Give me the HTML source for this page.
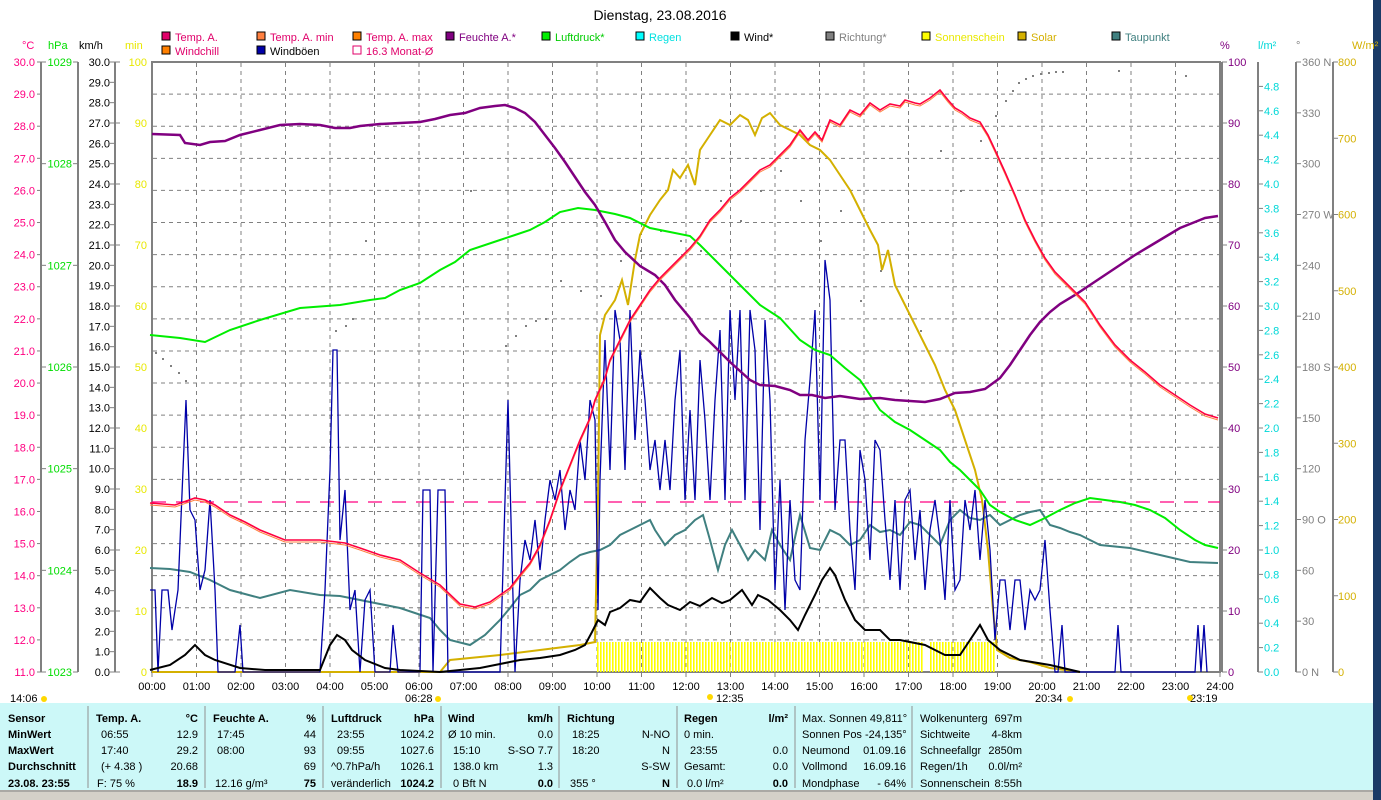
<!DOCTYPE html>
<html><head><meta charset="utf-8"><style>
body{margin:0;width:1381px;height:800px;overflow:hidden;background:#fff;font-family:"Liberation Sans",sans-serif}
svg{position:absolute;left:0;top:0}
svg text{font-family:"Liberation Sans",sans-serif;font-size:11px}
</style></head><body>
<svg id="s" width="1381" height="800" xmlns="http://www.w3.org/2000/svg">
<rect x="1373" y="0" width="8" height="800" fill="#1a3a66"/>
<text x="660" y="20" font-size="14" text-anchor="middle" style="font-size:14px">Dienstag, 23.08.2016</text>
<g id="leg"></g>
<g id="axes"></g>
<rect x="152" y="62" width="1068" height="610" fill="none" stroke="#808080" stroke-width="2"/>
<g id="grid" stroke="#808080" stroke-dasharray="4,4" stroke-width="1"></g>
<g id="sun" fill="#ffff00"></g>
<line x1="152" y1="502" x2="1220" y2="502" stroke="#ff0080" stroke-width="1.3" stroke-dasharray="14,10"/>
<g id="dots" fill="#808080"></g>
<polyline fill="none" stroke="#d4b000" stroke-width="2" points="152,672 440,672 450,660 500,655 540,650 580,645 595,642 598,500 600,335 605,315 615,300 622,280 628,305 635,260 640,235 650,215 660,200 668,190 673,170 680,178 688,165 695,185 700,150 710,135 720,120 730,125 740,115 748,120 755,135 762,118 770,113 780,125 790,130 800,135 810,145 820,150 830,160 840,175 850,190 860,210 870,230 878,245 882,270 888,250 895,285 905,305 915,325 925,345 935,365 945,390 955,410 965,440 975,470 982,500 988,550 993,610 997,650 1010,658 1030,662 1050,668 1080,672"/>
<polyline fill="none" stroke="#408080" stroke-width="2" points="150,568 170,569 190,572 210,580 230,590 260,598 290,590 320,595 340,596 360,600 380,604 400,608 430,618 440,630 450,640 470,645 485,635 500,620 510,608 520,595 530,590 540,580 550,575 560,570 570,562 580,555 590,552 600,550 610,545 620,535 630,530 640,525 650,520 655,530 665,545 675,535 685,530 695,520 703,515 710,540 718,570 725,545 732,530 740,545 748,560 755,550 765,560 772,530 780,545 790,560 800,515 810,548 820,550 830,530 840,535 850,545 860,540 870,525 880,532 890,530 900,535 910,522 920,525 930,535 940,545 950,520 960,510 970,518 980,520 990,515 1000,525 1010,520 1020,515 1030,512 1040,510 1050,525 1060,528 1070,532 1080,535 1100,545 1130,548 1160,555 1190,562 1218,563"/>
<polyline fill="none" stroke="#0000a8" stroke-width="1.3" points="150,590 155,590 158,672 162,590 168,590 172,630 178,590 183,470 186,400 190,510 195,520 200,590 205,570 210,500 215,590 218,672 235,672 240,625 243,672 320,672 325,590 330,470 333,350 337,350 340,540 345,490 350,610 355,590 360,672 365,600 370,590 375,672 390,672 393,625 398,672 420,672 423,490 430,490 433,672 438,490 445,490 448,672 500,672 505,500 508,400 512,560 515,672 520,580 525,540 530,560 535,520 540,570 545,520 550,480 555,500 560,470 565,530 570,490 575,510 580,440 585,480 590,400 595,420 598,610 600,480 605,340 610,470 615,310 620,340 625,470 630,310 635,440 640,350 645,400 650,470 655,440 660,490 665,440 670,490 675,400 680,350 685,500 690,410 695,500 700,360 705,420 710,500 715,400 720,330 725,500 730,310 735,400 740,310 745,500 750,310 755,350 760,530 765,320 770,400 775,590 780,480 785,610 790,500 795,580 800,590 805,440 810,380 815,310 820,500 825,260 830,300 835,510 840,440 845,440 850,530 855,590 860,450 865,480 870,560 875,440 880,450 885,520 890,580 895,500 900,590 905,500 910,490 915,560 920,510 925,590 930,530 935,500 940,540 945,600 950,500 955,590 960,580 965,500 970,530 975,490 980,560 985,500 990,550 995,640 1000,580 1005,580 1010,630 1015,580 1020,580 1025,630 1030,590 1035,600 1040,590 1045,540 1050,610 1055,672 1058,672 1062,625 1065,672 1115,672 1118,625 1121,672 1195,672 1198,625 1201,672 1204,625 1207,672"/>
<polyline fill="none" stroke="#000" stroke-width="2" points="150,670 170,665 185,655 195,645 205,655 215,660 240,668 265,670 320,670 330,645 337,635 345,640 352,650 365,660 385,668 400,670 440,672 480,668 500,664 520,660 540,658 560,655 575,650 585,645 592,632 598,620 605,625 610,612 620,608 630,600 640,602 650,588 660,598 668,605 680,610 690,602 700,606 712,598 722,603 730,600 742,590 752,605 758,595 768,600 780,610 790,620 798,630 805,615 815,595 822,580 830,568 835,575 845,600 855,620 865,630 880,630 890,640 900,640 910,642 925,645 935,650 945,655 960,655 970,640 980,625 988,640 1000,650 1020,660 1050,665 1080,672"/>
<polyline fill="none" stroke="#00ee00" stroke-width="2" points="150,335 180,338 205,342 230,330 260,320 300,308 340,305 370,300 385,298 400,290 420,283 440,270 455,262 470,250 500,240 515,235 530,230 545,222 560,212 578,208 595,210 615,214 630,218 650,228 670,232 690,236 700,245 710,255 720,265 730,275 745,290 760,305 780,318 800,340 815,350 830,355 845,368 860,380 870,395 880,410 895,422 910,430 925,440 940,450 950,462 960,470 972,482 980,490 990,505 1000,512 1015,520 1030,525 1045,518 1060,510 1075,503 1090,498 1105,500 1120,502 1135,505 1150,510 1165,518 1180,530 1195,540 1205,545 1218,548"/>
<polyline fill="none" stroke="#800080" stroke-width="2.5" points="152,134 180,135 185,143 200,145 210,142 225,141 240,135 260,130 280,125 300,124 320,125 335,128 350,128 360,126 380,124 400,123 420,122 435,119 450,115 465,113 480,108 495,106 505,105 515,108 525,113 535,122 545,135 555,148 565,162 575,177 585,192 595,205 605,222 615,240 625,252 640,266 655,275 665,285 675,300 690,318 700,333 710,342 720,352 730,362 740,371 750,380 760,385 775,386 790,390 800,395 812,395 825,398 840,396 860,399 880,398 895,400 910,401 925,402 940,399 955,393 970,392 985,389 1000,378 1010,365 1020,350 1030,335 1040,322 1050,312 1060,304 1075,295 1090,285 1105,275 1120,265 1135,255 1150,246 1165,237 1180,228 1195,222 1205,218 1218,216"/>
<g id="temp"></g>
<g id="tbl"></g>
</svg>
<script>
const NS="http://www.w3.org/2000/svg";
function el(p,t,a,txt){const e=document.createElementNS(NS,t);for(const k in a)e.setAttribute(k,a[k]);if(txt!==undefined)e.textContent=txt;p.appendChild(e);return e;}
const S=document.getElementById('s');
const ax=document.getElementById('axes'),gr=document.getElementById('grid');
// grid
for(let h=1;h<24;h++){const x=152+h*44.5;el(gr,'line',{x1:x,y1:63,x2:x,y2:671});}
for(let k=1;k<19;k++){const y=62+k*610/19;el(gr,'line',{x1:153,y1:y,x2:1219,y2:y});}
// left axes
function vaxis(x){el(ax,'line',{x1:x,y1:62,x2:x,y2:672,stroke:'#808080','stroke-width':2});}
vaxis(41);vaxis(78);vaxis(115);vaxis(1258);vaxis(1296);vaxis(1333);
el(ax,'line',{x1:1222,y1:62,x2:1222,y2:672,stroke:'#808080','stroke-width':2});
for(let v=11;v<=30;v++){const y=672-(v-11)*610/19;el(ax,'text',{x:35,y:y+4,'text-anchor':'end',fill:'#ff0080'},v.toFixed(1));el(ax,'line',{x1:37,y1:y,x2:41,y2:y,stroke:'#808080'});}
for(let v=1023;v<=1029;v++){const y=672-(v-1023)*610/6;el(ax,'text',{x:72,y:y+4,'text-anchor':'end',fill:'#00dd00'},v);el(ax,'line',{x1:41,y1:y,x2:46,y2:y,stroke:'#808080'});el(ax,'line',{x1:73,y1:y,x2:78,y2:y,stroke:'#808080'});}
for(let v=0;v<=30;v++){const y=672-v*610/30;el(ax,'text',{x:110,y:y+4,'text-anchor':'end',fill:'#000'},v.toFixed(1));el(ax,'line',{x1:110,y1:y,x2:115,y2:y,stroke:'#808080'});}
for(let v=0;v<=100;v+=10){const y=672-v*6.1;el(ax,'text',{x:147,y:y+4,'text-anchor':'end',fill:'#e8e800'},v);el(ax,'line',{x1:115,y1:y,x2:120,y2:y,stroke:'#808080'});}
for(let v=0;v<=100;v+=10){const y=672-v*6.1;el(ax,'line',{x1:1222,y1:y,x2:1227,y2:y,stroke:'#808080'});el(ax,'text',{x:1228,y:y+4,fill:'#800080'},v);}
for(let i=0;i<=24;i++){const v=i*0.2,y=672-v*122;el(ax,'line',{x1:1258,y1:y,x2:1263,y2:y,stroke:'#808080'});el(ax,'text',{x:1264,y:y+4,fill:'#00d8d8'},v.toFixed(1));}
const dn={0:' N',90:' O',180:' S',270:' W',360:' N'};
for(let v=0;v<=360;v+=30){const y=672-v*610/360;el(ax,'line',{x1:1296,y1:y,x2:1301,y2:y,stroke:'#808080'});el(ax,'text',{x:1302,y:y+4,fill:'#808080'},v+(dn[v]||''));}
for(let v=0;v<=800;v+=100){const y=672-v*610/800;el(ax,'line',{x1:1333,y1:y,x2:1338,y2:y,stroke:'#808080'});el(ax,'text',{x:1338,y:y+4,fill:'#d4b000'},v);}
[['°C',22,'#ff0080'],['hPa',48,'#00dd00'],['km/h',79,'#000'],['min',125,'#e8e800'],['%',1220,'#800080'],['l/m²',1258,'#00d8d8'],['°',1296,'#808080'],['W/m²',1352,'#d4b000']].forEach(a=>el(ax,'text',{x:a[1],y:49,fill:a[2]},a[0]));
// x labels
for(let h=0;h<=24;h++){const x=152+h*44.5;el(ax,'text',{x:x,y:690,'text-anchor':'middle'},(h<10?'0':'')+h+':00');el(ax,'line',{x1:x,y1:672,x2:x,y2:677,stroke:'#808080'});}
[['14:06',10],['06:28',405],['12:35',716],['20:34',1035],['23:19',1190]].forEach(a=>el(ax,'text',{x:a[1],y:702},a[0]));
[[44,699],[438,699],[710,697],[1070,699],[1190,698]].forEach(a=>el(ax,'circle',{cx:a[0],cy:a[1],r:3,fill:'#ffd800'}));
// legend
const L=document.getElementById('leg');
const items=[['Temp. A.',162,37,'#e0006a','#e0006a'],['Temp. A. min',257,37,'#ff8040','#e0006a'],['Temp. A. max',353,37,'#ff8000','#e0006a'],['Feuchte A.*',446,37,'#800080','#800080'],['Luftdruck*',542,37,'#00ee00','#00cc00'],['Regen',636,37,'#00ffff','#00e0e0'],['Wind*',731,37,'#000','#000'],['Richtung*',826,37,'#808080','#808080'],['Sonnenschein',922,37,'#ffff00','#e8e800'],['Solar',1018,37,'#d4b000','#d4b000'],['Taupunkt',1112,37,'#408080','#408080'],['Windchill',162,51,'#ff8000','#e0006a'],['Windböen',257,51,'#0000a8','#000']];
items.forEach(a=>{el(L,'rect',{x:a[1],y:a[2]-5,width:8,height:8,fill:a[3],stroke:'#000'});el(L,'text',{x:a[1]+13,y:a[2]+4,fill:a[4]},a[0]);});
el(L,'rect',{x:353,y:46,width:8,height:8,fill:'none',stroke:'#e0006a'});el(L,'text',{x:366,y:55,fill:'#e0006a'},'16.3 Monat-Ø');
// sunshine bars
const sn=document.getElementById('sun');
for(let x=597;x<995;x+=3){if(x>921&&x<928)continue;el(sn,'rect',{x:x,y:642,width:1.6,height:30});}
// direction dots
const dts=[[155,352],[162,358],[170,365],[178,372],[185,380],[365,240],[335,330],[345,325],[352,318],[470,190],[505,345],[515,335],[525,325],[535,320],[545,318],[560,280],[580,290],[600,295],[620,260],[640,250],[660,230],[680,240],[700,250],[720,200],[740,220],[760,190],[780,170],[800,200],[820,240],[840,210],[860,300],[880,270],[900,390],[920,330],[940,150],[960,190],[980,140],[995,115],[1005,100],[1012,90],[1018,82],[1025,78],[1032,75],[1040,73],[1048,72],[1055,71],[1062,71],[1118,70],[1185,75]];
const D=document.getElementById('dots');dts.forEach(d=>el(D,'rect',{x:d[0],y:d[1],width:2,height:2}));
// temperature
const tp=[[150,503],[175,505],[195,498],[205,500],[215,505],[230,515],[245,522],[260,530],[285,540],[320,540],[345,543],[360,548],[380,555],[400,560],[420,573],[440,585],[460,604],[475,607],[490,602],[500,595],[510,588],[520,575],[530,563],[540,545],[550,520],[560,490],[570,465],[580,440],[590,418],[595,400],[605,378],[610,360],[620,340],[630,320],[640,305],[650,290],[660,278],[670,268],[680,258],[690,248],[700,236],[710,220],[720,210],[730,198],[740,190],[750,180],[760,170],[770,165],[780,155],[790,145],[800,130],[808,140],[815,132],[822,140],[830,120],[840,125],[850,110],[860,115],[870,103],[880,110],[890,104],[900,106],[905,100],[915,103],[920,104],[930,98],[940,90],[948,100],[955,108],[962,112],[970,118],[980,122],[988,135],[995,150],[1005,172],[1015,195],[1025,220],[1035,240],[1045,258],[1055,272],[1065,282],[1075,292],[1085,302],[1100,325],[1115,345],[1130,360],[1145,372],[1160,385],[1175,395],[1190,405],[1205,414],[1218,418]];
const T=document.getElementById('temp');
el(T,'polyline',{points:tp.map(p=>p[0]+','+(p[1]+2)).join(' '),fill:'none',stroke:'#ff8040','stroke-width':1});
el(T,'polyline',{points:tp.map(p=>p[0]+','+p[1]).join(' '),fill:'none',stroke:'#ff0040','stroke-width':1.6});
// table
const B=document.getElementById('tbl');
el(B,'rect',{x:0,y:703,width:1373,height:87,fill:'#ccf8f8'});
el(B,'rect',{x:0,y:790,width:1373,height:10,fill:'#d4d0c8'});
el(B,'line',{x1:0,y1:791,x2:1373,y2:791,stroke:'#808080'});
[88,205,323,441,559,677,795,912].forEach(x=>el(B,'line',{x1:x,y1:706,x2:x,y2:788,stroke:'#909090'}));
const rows=[718,734,750,766,783];
function t(x,r,s,o){const a={x:x,y:rows[r]+4};if(o&&o.e)a['text-anchor']='end';if(o&&o.b)a['font-weight']='bold';el(B,'text',a,s);}
['Sensor','MinWert','MaxWert','Durchschnitt','23.08. 23:55'].forEach((s,i)=>t(8,i,s,{b:1}));
t(96,0,'Temp. A.',{b:1});t(198,0,'°C',{e:1,b:1});t(101,1,'06:55');t(198,1,'12.9',{e:1});t(101,2,'17:40');t(198,2,'29.2',{e:1});t(101,3,'(+ 4.38 )');t(198,3,'20.68',{e:1});t(97,4,'F: 75 %');t(198,4,'18.9',{e:1,b:1});
t(213,0,'Feuchte A.',{b:1});t(316,0,'%',{e:1,b:1});t(217,1,'17:45');t(316,1,'44',{e:1});t(217,2,'08:00');t(316,2,'93',{e:1});t(316,3,'69',{e:1});t(215,4,'12.16 g/m³');t(316,4,'75',{e:1,b:1});
t(331,0,'Luftdruck',{b:1});t(434,0,'hPa',{e:1,b:1});t(337,1,'23:55');t(434,1,'1024.2',{e:1});t(337,2,'09:55');t(434,2,'1027.6',{e:1});t(331,3,'^0.7hPa/h');t(434,3,'1026.1',{e:1});t(331,4,'veränderlich');t(434,4,'1024.2',{e:1,b:1});
t(448,0,'Wind',{b:1});t(553,0,'km/h',{e:1,b:1});t(448,1,'Ø 10 min.');t(553,1,'0.0',{e:1});t(453,2,'15:10');t(553,2,'S-SO 7.7',{e:1});t(453,3,'138.0 km');t(553,3,'1.3',{e:1});t(453,4,'0 Bft N');t(553,4,'0.0',{e:1,b:1});
t(567,0,'Richtung',{b:1});t(670,0,'',{e:1});t(572,1,'18:25');t(670,1,'N-NO',{e:1});t(572,2,'18:20');t(670,2,'N',{e:1});t(670,3,'S-SW',{e:1});t(570,4,'355 °');t(670,4,'N',{e:1,b:1});
t(684,0,'Regen',{b:1});t(788,0,'l/m²',{e:1,b:1});t(684,1,'0 min.');t(690,2,'23:55');t(788,2,'0.0',{e:1});t(684,3,'Gesamt:');t(788,3,'0.0',{e:1});t(687,4,'0.0 l/m²');t(788,4,'0.0',{e:1,b:1});
t(802,0,'Max. Sonnen 49,811°');t(802,1,'Sonnen Pos  -24,135°');t(802,2,'Neumond');t(906,2,'01.09.16',{e:1});t(802,3,'Vollmond');t(906,3,'16.09.16',{e:1});t(802,4,'Mondphase');t(906,4,'- 64%',{e:1});
t(920,0,'Wolkenunterg');t(1022,0,'697m',{e:1});t(920,1,'Sichtweite');t(1022,1,'4-8km',{e:1});t(920,2,'Schneefallgr');t(1022,2,'2850m',{e:1});t(920,3,'Regen/1h');t(1022,3,'0.0l/m²',{e:1});t(920,4,'Sonnenschein');t(1022,4,'8:55h',{e:1});
</script>
</body></html>
